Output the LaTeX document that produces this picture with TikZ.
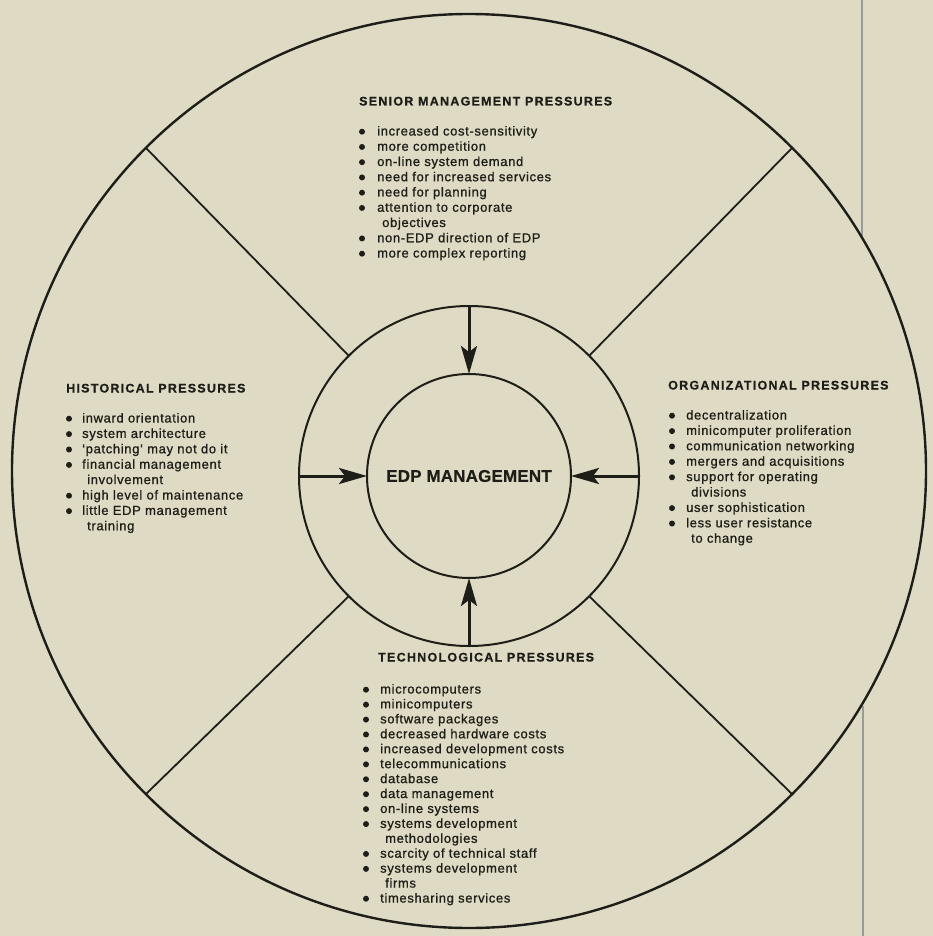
\documentclass[tikz,border=0pt]{standalone}
\usepackage{fontspec}
\setmainfont{Liberation Sans}
\newfontfamily\bodyfam[LetterSpace=5,FakeBold=0.9]{Liberation Sans}
\newfontfamily\headfam[LetterSpace=10,FakeBold=0.6]{Liberation Sans}
\newfontfamily\corefam[LetterSpace=1,FakeBold=0.5]{Liberation Sans}
\usetikzlibrary{arrows.meta}
\definecolor{paper}{RGB}{222,218,195}
\definecolor{ink}{RGB}{30,30,24}
\newcommand\pressurelist[6]{%
  \foreach \kind/\txt [count=\i from 0] in {#6} {%
    \pgfmathsetmacro\yy{#4+\i*#5}%
    \if\kind b%
      \fill[ink] (#2,\yy-3.8) circle (3pt);
      \node[itm] (#1\i) at (#3,\yy) {\txt};
    \else
      \node[itm] (#1\i) at (#3+5,\yy) {\txt};
    \fi
  }}
\begin{document}
\begin{tikzpicture}[x=1pt,y=-1pt,
  ring/.style={circle, draw=ink, line width=2pt, inner sep=0pt, outer sep=0pt},
  divider/.style={draw=ink, line width=1.8pt},
  arr/.style={draw=ink, line width=3pt, -{Stealth[length=28pt,width=16pt,inset=6pt]}},
  itm/.style={anchor=base west, inner sep=0pt, text=ink, font=\bodyfam\fontsize{13pt}{15pt}\selectfont},
  head/.style={anchor=base west, inner sep=0pt, text=ink, font=\headfam\bfseries\fontsize{12.5pt}{15pt}\selectfont}]
\fill[paper] (0,0) rectangle (933,936);
\useasboundingbox (0,0) rectangle (933,936);

% page-edge rule of the scan
\draw[line width=1.2pt, draw=ink!45] (862,0) -- (862,236);
\draw[line width=1.2pt, draw=ink!45] (863,706) -- (863,936);

\node[ring, minimum size=914pt, line width=2.4pt] (outer) at (469,471) {};
\node[ring, minimum size=340pt] (mid) at (469,476) {};
\node[ring, minimum size=204pt, text=ink, font=\corefam\bfseries\fontsize{17pt}{20pt}\selectfont] (core) at (469,476) {EDP MANAGEMENT};

\draw[divider] (mid.north west) -- (outer.north west);
\draw[divider] (mid.north east) -- (outer.north east);
\draw[divider] (mid.south west) -- (outer.south west);
\draw[divider] (mid.south east) -- (outer.south east);

\draw[arr] (mid.north) -- (core.north);
\draw[arr] (mid.south) -- (core.south);
\draw[arr] (mid.west) -- (core.west);
\draw[arr] (mid.east) -- (core.east);

\node[head] (senhead) at (359,105.5) {SENIOR MANAGEMENT PRESSURES};
\node[head] (histhead) at (66,392.5) {HISTORICAL PRESSURES};
\node[head] (orghead) at (668,389.5) {ORGANIZATIONAL PRESSURES};
\node[head] (techhead) at (378,661.5) {TECHNOLOGICAL PRESSURES};

\pressurelist{sen}{362}{377}{135.5}{15.25}{b/increased cost-sensitivity, b/more competition, b/on-line system demand, b/need for increased services, b/need for planning, b/attention to corporate, c/objectives, b/non-EDP direction of EDP, b/more complex reporting}

\pressurelist{his}{69}{82}{422.5}{15.4}{b/inward orientation, b/system architecture, b/‘patching’ may not do it, b/financial management, c/involvement, b/high level of maintenance, b/little EDP management, c/training}

\pressurelist{org}{672}{686}{419.5}{15.4}{b/decentralization, b/minicomputer proliferation, b/communication networking, b/mergers and acquisitions, b/support for operating, c/divisions, b/user sophistication, b/less user resistance, c/to change}

\pressurelist{tec}{366}{380}{693.5}{14.93}{b/microcomputers, b/minicomputers, b/software packages, b/decreased hardware costs, b/increased development costs, b/telecommunications, b/database, b/data management, b/on-line systems, b/systems development, c/methodologies, b/scarcity of technical staff, b/systems development, c/firms, b/timesharing services}
\end{tikzpicture}
\end{document}
